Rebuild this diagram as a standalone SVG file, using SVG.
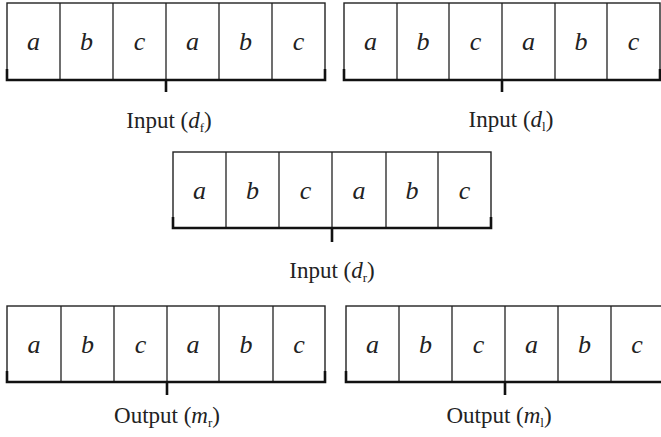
<svg xmlns="http://www.w3.org/2000/svg" width="661" height="437" viewBox="0 0 661 437">
<style>
.box{fill:#fff;stroke:#222;stroke-width:1.4}
.div{stroke:#222;stroke-width:1.3}
.br{fill:none;stroke:#111;stroke-width:2.6;stroke-linejoin:miter}
.cell{font-family:"Liberation Serif",serif;font-style:italic;font-size:26px;fill:#222;text-anchor:middle}
.lab{font-family:"Liberation Serif",serif;font-size:23px;fill:#222;text-anchor:middle}
.it{font-style:italic}
.sub{font-size:13px}
</style>
<rect width="661" height="437" fill="#fff"/>

<g id="input_df">
<rect class="box" x="7" y="3" width="318" height="77"/>
<path class="div" d="M60 3V80M113 3V80M166 3V80M219 3V80M272 3V80"/>
<text class="cell" x="33.5" y="50">a</text><text class="cell" x="86.5" y="50">b</text><text class="cell" x="139.5" y="50">c</text>
<text class="cell" x="192.5" y="50">a</text><text class="cell" x="245.5" y="50">b</text><text class="cell" x="298.5" y="50">c</text>
<path class="br" d="M7 69V80H325V69M166 80V92"/>
<text class="lab" x="169" y="128">Input (<tspan class="it">d</tspan><tspan class="sub" dy="4">f</tspan><tspan dy="-4">)</tspan></text>
</g>

<g id="input_dl">
<rect class="box" x="344" y="3" width="316" height="77"/>
<path class="div" d="M397 3V80M449 3V80M502 3V80M555 3V80M607 3V80"/>
<text class="cell" x="370.5" y="50">a</text><text class="cell" x="423" y="50">b</text><text class="cell" x="475.5" y="50">c</text>
<text class="cell" x="528.5" y="50">a</text><text class="cell" x="581" y="50">b</text><text class="cell" x="633.5" y="50">c</text>
<path class="br" d="M344 69V80H660V69M502 80V92"/>
<text class="lab" x="511" y="127">Input (<tspan class="it">d</tspan><tspan class="sub" dy="4">l</tspan><tspan dy="-4">)</tspan></text>
</g>

<g id="input_dr">
<rect class="box" x="173" y="152" width="318" height="76"/>
<path class="div" d="M226 152V228M279 152V228M332 152V228M386 152V228M438 152V228"/>
<text class="cell" x="199.5" y="199">a</text><text class="cell" x="252.5" y="199">b</text><text class="cell" x="305.5" y="199">c</text>
<text class="cell" x="359" y="199">a</text><text class="cell" x="412" y="199">b</text><text class="cell" x="464.5" y="199">c</text>
<path class="br" d="M173 217V228H491V217M332 228V242"/>
<text class="lab" x="332" y="278">Input (<tspan class="it">d</tspan><tspan class="sub" dy="4">r</tspan><tspan dy="-4">)</tspan></text>
</g>

<g id="output_mr">
<rect class="box" x="7" y="306" width="318" height="76"/>
<path class="div" d="M61 306V382M114 306V382M167 306V382M219 306V382M273 306V382"/>
<text class="cell" x="34" y="353">a</text><text class="cell" x="87.5" y="353">b</text><text class="cell" x="140.5" y="353">c</text>
<text class="cell" x="193" y="353">a</text><text class="cell" x="246" y="353">b</text><text class="cell" x="299" y="353">c</text>
<path class="br" d="M7 371V382H325V371M167 382V395"/>
<text class="lab" x="167" y="423">Output (<tspan class="it">m</tspan><tspan class="sub" dy="4">r</tspan><tspan dy="-4">)</tspan></text>
</g>

<g id="output_ml">
<rect class="box" x="346" y="306" width="318" height="76"/>
<path class="div" d="M399 306V382M452 306V382M505 306V382M558 306V382M611 306V382"/>
<text class="cell" x="372.5" y="353">a</text><text class="cell" x="425.5" y="353">b</text><text class="cell" x="478.5" y="353">c</text>
<text class="cell" x="531.5" y="353">a</text><text class="cell" x="584.5" y="353">b</text><text class="cell" x="637" y="353">c</text>
<path class="br" d="M346 371V382H664M505 382V395"/>
<text class="lab" x="499" y="423">Output (<tspan class="it">m</tspan><tspan class="sub" dy="4">l</tspan><tspan dy="-4">)</tspan></text>
</g>
</svg>
